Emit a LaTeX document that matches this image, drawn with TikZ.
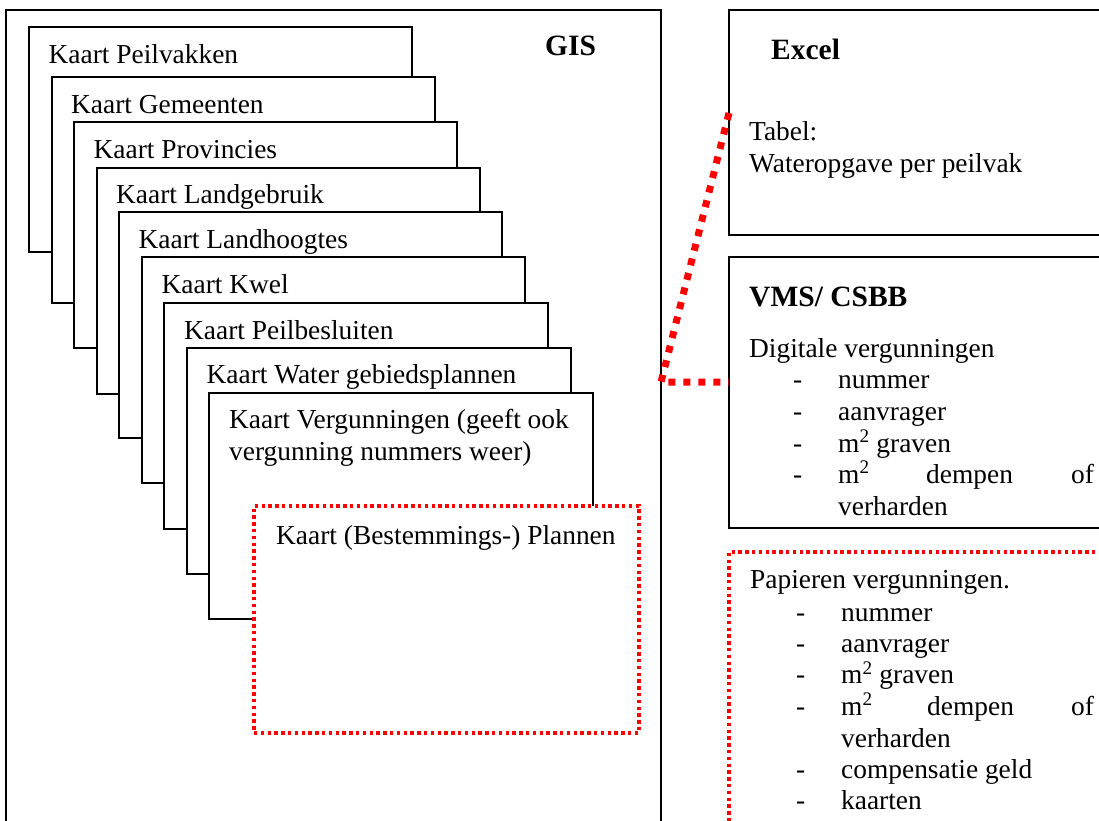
\documentclass[tikz,border=0pt]{standalone}
\usepackage{fontspec}
\setmainfont{Liberation Serif}
\usetikzlibrary{calc}
\begin{document}
\begin{tikzpicture}[x=1pt,y=-1pt,
  box/.style={draw=black,line width=2pt,fill=white,inner sep=0pt,outer sep=0pt,anchor=north west},
  redbox/.style={draw=red,line width=3.6pt,dash pattern=on 3.4pt off 3.4pt,fill=white,inner sep=0pt,outer sep=0pt,anchor=north west},
  link/.style={draw=red,line width=7pt,dash pattern=on 7pt off 8pt},
  txt/.style={anchor=base west,inner sep=0pt,font=\fontsize{27.4}{31.7}\selectfont},
  hdr/.style={anchor=base west,inner sep=0pt,font=\fontsize{29.5}{34}\selectfont\bfseries}]
\useasboundingbox (0,0) rectangle (1099,820);
\clip (0,0) rectangle (1099,820);

% GIS frame
\node[box,minimum width=655pt,minimum height=840pt] (gis) at (6,10) {};
\node[hdr] (gislab) at (545,55) {GIS};

% stacked map cards
\node[box,minimum width=383pt,minimum height=225pt] (c1) at (29,27) {};
\node[txt] (t1) at (48.5,63) {Kaart Peilvakken};
\node[box,minimum width=383pt,minimum height=226pt] (c2) at (51.5,77) {};
\node[txt] (t2) at (71,113) {Kaart Gemeenten};
\node[box,minimum width=383pt,minimum height=226pt] (c3) at (74,122) {};
\node[txt] (t3) at (93.5,158) {Kaart Provincies};
\node[box,minimum width=383pt,minimum height=226pt] (c4) at (96.5,168) {};
\node[txt] (t4) at (116,203.5) {Kaart Landgebruik};
\node[box,minimum width=383pt,minimum height=226pt] (c5) at (119,212) {};
\node[txt] (t5) at (138.5,248) {Kaart Landhoogtes};
\node[box,minimum width=383pt,minimum height=226pt] (c6) at (142,257) {};
\node[txt] (t6) at (161.5,293) {Kaart Kwel};
\node[box,minimum width=384pt,minimum height=226pt] (c7) at (164,303) {};
\node[txt] (t7) at (184,339) {Kaart Peilbesluiten};
\node[box,minimum width=384pt,minimum height=226pt] (c8) at (187,348) {};
\node[txt] (t8) at (206.5,383.5) {Kaart Water gebiedsplannen};
\node[box,minimum width=384pt,minimum height=226pt] (c9) at (209,393) {};
\node[txt] (t9a) at (229,428) {Kaart Vergunningen (geeft ook};
\node[txt] (t9b) at (229,460.5) {vergunning nummers weer)};
\node[redbox,minimum width=385pt,minimum height=227pt] (c10) at (254,506) {};
\node[txt] (t10) at (276,544) {Kaart (Bestemmings-) Plannen};

% Excel
\node[box,minimum width=500pt,minimum height=225pt] (excel) at (729,10) {};
\node[hdr] (exlab) at (771,59) {Excel};
\node[txt] (ex1) at (749,140) {Tabel:};
\node[txt] (ex2) at (749,172) {Wateropgave per peilvak};

% VMS/CSBB
\node[box,minimum width=500pt,minimum height=271pt] (vms) at (729,257) {};
\node[hdr] (vmslab) at (749,306) {VMS/ CSBB};
\node[txt] (v0) at (749,357) {Digitale vergunningen};
\node[txt] (vd1) at (793,388) {-};
\node[txt] (v1) at (838,388) {nummer};
\node[txt] (vd2) at (793,420) {-};
\node[txt] (v2) at (838,420) {aanvrager};
\node[txt] (vd3) at (793,452) {-};
\node[txt] (v3) at (838,452) {m\textsuperscript{2} graven};
\node[txt] (vd4) at (793,483) {-};
\node[txt] (v4a) at (838,483) {m\textsuperscript{2}};
\node[txt] (v4b) at (926,483) {dempen};
\node[txt] (v4c) at (1071,483) {of};
\node[txt] (v5) at (838,515) {verharden};

% Papieren
\node[redbox,minimum width=500pt,minimum height=400pt] (pap) at (729,552) {};
\node[txt] (p0) at (750,588) {Papieren vergunningen.};
\node[txt] (pd1) at (796,621) {-};
\node[txt] (p1) at (841,621) {nummer};
\node[txt] (pd2) at (796,652) {-};
\node[txt] (p2) at (841,652) {aanvrager};
\node[txt] (pd3) at (796,683.5) {-};
\node[txt] (p3) at (841,683.5) {m\textsuperscript{2} graven};
\node[txt] (pd4) at (796,715) {-};
\node[txt] (p4a) at (841,715) {m\textsuperscript{2}};
\node[txt] (p4b) at (927,715) {dempen};
\node[txt] (p4c) at (1071,715) {of};
\node[txt] (p5) at (841,747) {verharden};
\node[txt] (pd6) at (796,778) {-};
\node[txt] (p6) at (841,778) {compensatie geld};
\node[txt] (pd7) at (796,809) {-};
\node[txt] (p7) at (841,809) {kaarten};

% red dotted connector
\coordinate (exin) at ($(excel.north west)!0.458!(excel.south west)$);
\coordinate (vmsin) at ($(vms.north west)!0.462!(vms.south west)$);
\draw[link] (exin) -- (gis.east |- vmsin) -- (vmsin);
\end{tikzpicture}
\end{document}
